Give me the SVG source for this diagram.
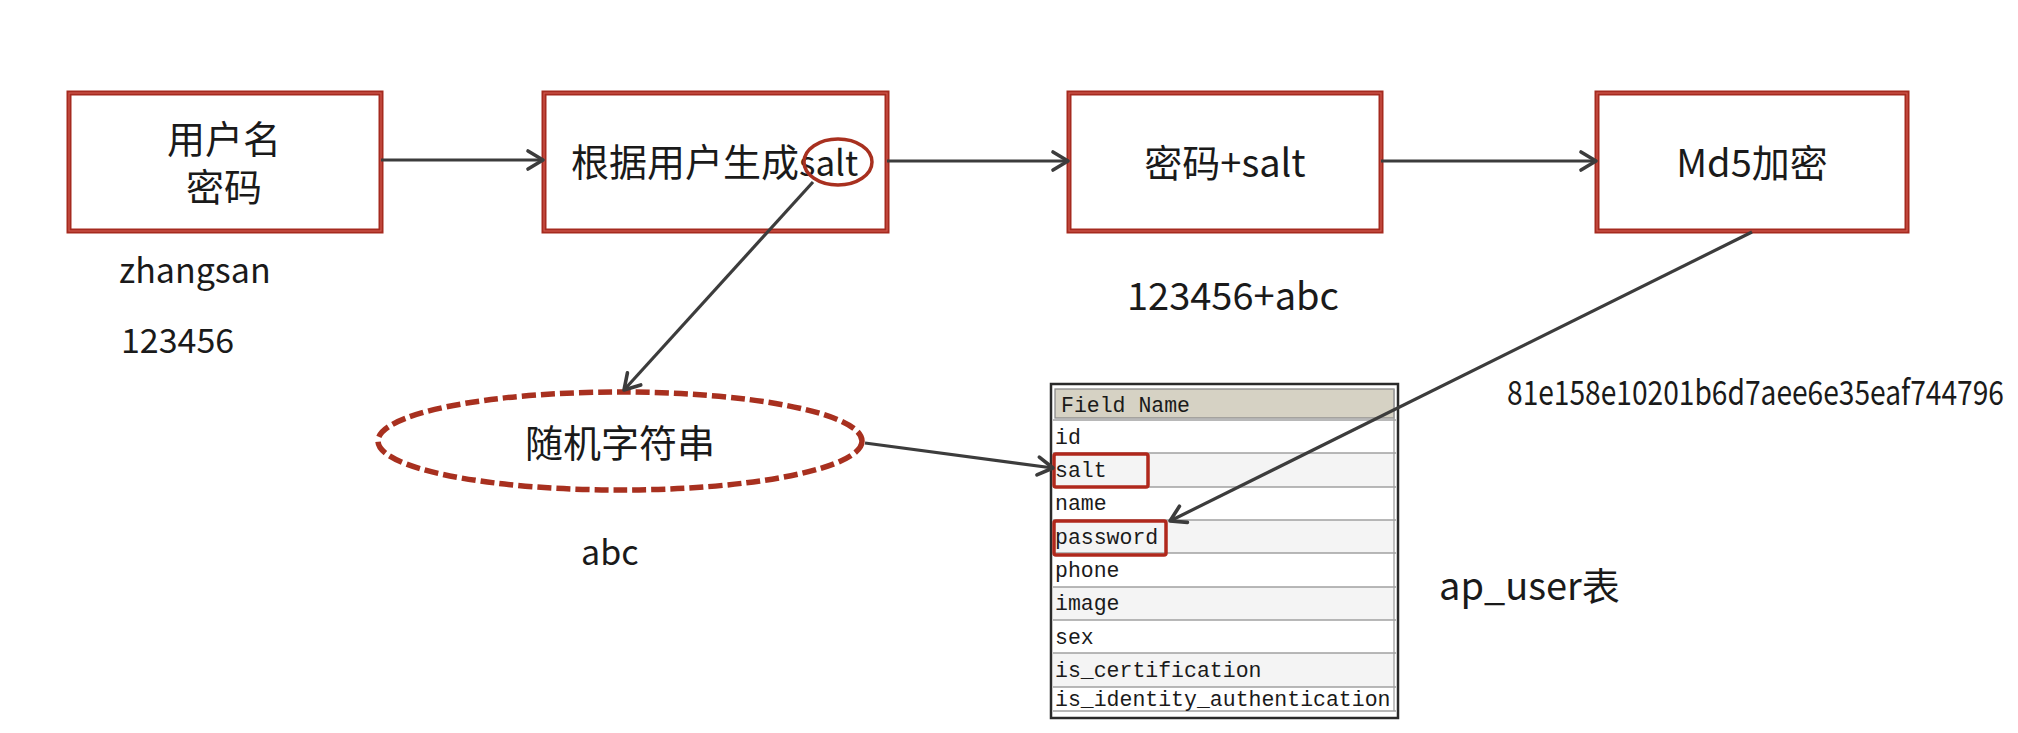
<svg xmlns="http://www.w3.org/2000/svg" width="2018" height="733" viewBox="0 0 2018 733">
  <defs>
    <marker id="arrow" markerUnits="userSpaceOnUse" markerWidth="24" markerHeight="24" viewBox="0 0 24 24" refX="21" refY="12" orient="auto">
      <path d="M6,3 L21,12 L6,21" fill="none" stroke="#3c3c3c" stroke-width="3.6" stroke-linecap="round" stroke-linejoin="round"/>
    </marker>
    <style>
      .box { fill: #ffffff; stroke: #a52a1f; stroke-width: 5; }
      .boxin { fill: none; stroke: #d0594d; stroke-width: 1.2; }
      .lbl { font-family: "Noto Sans CJK SC", "Noto Sans", sans-serif; font-size: 38px; fill: #1a1a1a; }
      .note { font-family: "Noto Sans CJK SC", "Noto Sans", sans-serif; font-size: 34px; fill: #1a1a1a; }
      .conn { fill: none; stroke: #3c3c3c; stroke-width: 3.2; marker-end: url(#arrow); }
      .mono { font-family: "Liberation Mono", "Courier New", monospace; font-size: 21.5px; fill: #1a1a1a; }
      .row { stroke: #a0a0a0; stroke-width: 1.3; }
      .hl { fill: none; stroke: #b0281c; stroke-width: 3.5; }
    </style>
  </defs>

  <rect width="2018" height="733" fill="#ffffff"/>

  <g id="node-user">
    <rect class="box" x="69" y="93" width="312" height="138"/>
    <rect class="boxin" x="69" y="93" width="312" height="138"/>
    <text class="lbl" text-anchor="middle" font-size="37"><tspan x="224" y="153">用户名</tspan><tspan x="224" y="201">密码</tspan></text>
  </g>

  <g id="node-gen-salt">
    <rect class="box" x="544" y="93" width="343" height="138"/>
    <rect class="boxin" x="544" y="93" width="343" height="138"/>
    <text class="lbl" x="571" y="176" font-size="39">根据用户生成<tspan font-size="35">salt</tspan></text>
    <ellipse cx="838" cy="162" rx="34" ry="23" fill="none" stroke="#a8301f" stroke-width="3.5"/>
  </g>

  <g id="node-pwd-salt">
    <rect class="box" x="1069" y="93" width="312" height="138"/>
    <rect class="boxin" x="1069" y="93" width="312" height="138"/>
    <text class="lbl" x="1225" y="177" text-anchor="middle">密码+salt</text>
  </g>

  <g id="node-md5">
    <rect class="box" x="1597" y="93" width="310" height="138"/>
    <rect class="boxin" x="1597" y="93" width="310" height="138"/>
    <text class="lbl" x="1752" y="177" text-anchor="middle">Md5加密</text>
  </g>

  <g id="node-random">
    <ellipse cx="620" cy="441" rx="242" ry="49" fill="none" stroke="#a8301f" stroke-width="5.5" stroke-dasharray="14,5"/>
    <text class="lbl" x="620" y="457" text-anchor="middle">随机字符串</text>
  </g>

  <g id="labels">
    <text class="note" x="119" y="283">zhangsan</text>
    <text class="note" x="121" y="353">123456</text>
    <text class="note" x="581" y="565">abc</text>
    <text class="lbl" x="1127" y="310" font-size="36">123456+abc</text>
    <text class="note" x="1507" y="405" font-size="24" textLength="497" lengthAdjust="spacingAndGlyphs">81e158e10201b6d7aee6e35eaf744796</text>
    <text class="lbl" x="1439" y="600">ap_user表</text>
  </g>

  <g id="ap_user_table">
    <rect x="1051" y="384" width="347" height="334" fill="#ffffff" stroke="#2a2a2a" stroke-width="2.5"/>
    <rect x="1055" y="389" width="339" height="29" fill="#d6d2c4" stroke="#8a8a8a" stroke-width="1.3"/>
    <rect x="1053" y="453" width="341" height="34" fill="#f4f4f4"/>
    <rect x="1053" y="520" width="341" height="33" fill="#f4f4f4"/>
    <rect x="1053" y="587" width="341" height="33" fill="#f4f4f4"/>
    <rect x="1053" y="653" width="341" height="34" fill="#f4f4f4"/>
    <line class="row" x1="1053" y1="420" x2="1396" y2="420"/>
    <line class="row" x1="1053" y1="453" x2="1396" y2="453"/>
    <line class="row" x1="1053" y1="487" x2="1396" y2="487"/>
    <line class="row" x1="1053" y1="520" x2="1396" y2="520"/>
    <line class="row" x1="1053" y1="553" x2="1396" y2="553"/>
    <line class="row" x1="1053" y1="587" x2="1396" y2="587"/>
    <line class="row" x1="1053" y1="620" x2="1396" y2="620"/>
    <line class="row" x1="1053" y1="653" x2="1396" y2="653"/>
    <line class="row" x1="1053" y1="687" x2="1396" y2="687"/>
    <line class="row" x1="1053" y1="711" x2="1396" y2="711"/>
    <line class="row" x1="1394" y1="389" x2="1394" y2="711"/>
    <text class="mono" x="1061" y="412" fill="#2a2a2a">Field Name</text>
    <text class="mono" x="1055" y="444">id</text>
    <text class="mono" x="1055" y="477">salt</text>
    <text class="mono" x="1055" y="510">name</text>
    <text class="mono" x="1055" y="544">password</text>
    <text class="mono" x="1055" y="577">phone</text>
    <text class="mono" x="1055" y="610">image</text>
    <text class="mono" x="1055" y="644">sex</text>
    <text class="mono" x="1055" y="677">is_certification</text>
    <text class="mono" x="1055" y="706">is_identity_authentication</text>
    <rect class="hl" x="1054" y="454" width="94" height="33" rx="2"/>
    <rect class="hl" x="1054" y="521" width="112" height="34" rx="2"/>
  </g>

  <g id="connectors">
    <line class="conn" x1="381" y1="160" x2="543" y2="160"/>
    <line class="conn" x1="887" y1="161" x2="1068" y2="161"/>
    <line class="conn" x1="1381" y1="161" x2="1596" y2="161"/>
    <line class="conn" x1="813" y1="182" x2="624" y2="390"/>
    <line class="conn" x1="865" y1="443" x2="1053" y2="468"/>
    <line class="conn" x1="1752" y1="232" x2="1170" y2="521"/>
  </g>
</svg>
